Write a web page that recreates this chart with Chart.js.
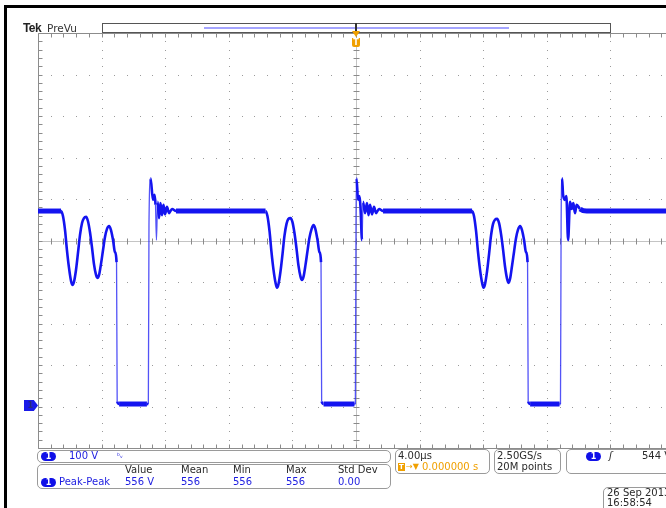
<!DOCTYPE html>
<html>
<head>
<meta charset="utf-8">
<script src="https://cdn.jsdelivr.net/npm/chart.js@4"></script>
<style>
html,body{margin:0;padding:0;background:#fff;}
body{width:666px;height:508px;overflow:hidden;position:relative;font-family:'DejaVu Sans',sans-serif;}
#wrap{position:absolute;left:0;top:0;width:700px;height:508px;}
.box{position:absolute;box-sizing:border-box;border:1px solid #9a9a9a;border-radius:5px;background:#fff;}
.t{position:absolute;font-size:10px;line-height:10px;white-space:nowrap;}
.blue{color:#1c1ce0;}
.dark{color:#2a2a2a;}
.org{color:#f0a000;}
.pill{position:absolute;width:15px;height:9px;border-radius:5px;background:#1010e8;color:#fff;font:bold 8px/9px 'DejaVu Sans',sans-serif;text-align:center;}
</style>
</head>
<body>
<div id="wrap"><canvas id="scope"></canvas></div>

<!-- frame -->
<div style="position:absolute;left:4px;top:5px;width:700px;height:3px;background:#000"></div>
<div style="position:absolute;left:4px;top:5px;width:3px;height:520px;background:#000"></div>

<!-- header -->
<div class="t" style="left:23px;top:22px;font:bold 12px/12px 'Liberation Sans',sans-serif;letter-spacing:-0.6px;color:#222">Tek</div>
<div class="t" style="left:47px;top:23px;font-size:10.5px;color:#333">PreVu</div>
<div style="position:absolute;left:102px;top:23px;width:509px;height:10px;box-sizing:border-box;border:1px solid #555;background:transparent"></div>
<div style="position:absolute;left:204px;top:27px;width:305px;height:2px;background:#a4a4ff"></div>
<div style="position:absolute;left:355px;top:23px;width:2px;height:9px;background:#333"></div>
<div style="position:absolute;left:352px;top:31px;width:0;height:0;border-left:4px solid transparent;border-right:4px solid transparent;border-top:6px solid #f0a000"></div>
<div style="position:absolute;left:352px;top:38px;width:8px;height:9px;background:#f0a000;border-radius:0 0 2px 2px;color:#fff;font:bold 8px/9px 'DejaVu Sans',sans-serif;text-align:center">T</div>

<!-- ground marker -->
<div style="position:absolute;left:24px;top:400px;width:14px;height:11px;background:#1a1ae8;clip-path:polygon(0 0,70% 0,100% 50%,70% 100%,0 100%);color:#2a2a80;font:bold 8px/11px 'DejaVu Sans',sans-serif;text-indent:4px">1</div>

<!-- channel box -->
<div class="box" style="left:37px;top:450px;width:354px;height:13px"></div>
<div class="pill" style="left:41px;top:452px">1</div>
<div class="t blue" style="left:69px;top:451px">100 V</div>
<div class="t blue" style="left:117px;top:451px;font-size:7px">ᵇᵥ</div>

<!-- measurement box -->
<div class="box" style="left:37px;top:464px;width:354px;height:25px"></div>
<div class="t dark" style="left:125px;top:465px">Value</div>
<div class="t dark" style="left:181px;top:465px">Mean</div>
<div class="t dark" style="left:233px;top:465px">Min</div>
<div class="t dark" style="left:286px;top:465px">Max</div>
<div class="t dark" style="left:338px;top:465px">Std Dev</div>
<div class="pill" style="left:41px;top:478px">1</div>
<div class="t blue" style="left:59px;top:477px">Peak-Peak</div>
<div class="t blue" style="left:125px;top:477px">556 V</div>
<div class="t blue" style="left:181px;top:477px">556</div>
<div class="t blue" style="left:233px;top:477px">556</div>
<div class="t blue" style="left:286px;top:477px">556</div>
<div class="t blue" style="left:338px;top:477px">0.00</div>

<!-- timebase box -->
<div class="box" style="left:395px;top:449px;width:95px;height:25px"></div>
<div class="t dark" style="left:398px;top:451px">4.00µs</div>
<div style="position:absolute;left:398px;top:463px;width:7px;height:8px;background:#f0a000;color:#fff;font:bold 7px/8px 'DejaVu Sans',sans-serif;text-align:center">T</div>
<div class="t org" style="left:406px;top:462px;font-size:8px">→▼</div>
<div class="t org" style="left:422px;top:462px">0.000000 s</div>

<!-- sample box -->
<div class="box" style="left:494px;top:449px;width:67px;height:25px"></div>
<div class="t dark" style="left:497px;top:451px">2.50GS/s</div>
<div class="t dark" style="left:497px;top:462px">20M points</div>

<!-- trigger box -->
<div class="box" style="left:566px;top:449px;width:140px;height:25px"></div>
<div class="pill" style="left:586px;top:452px">1</div>
<div class="t dark" style="left:609px;top:451px;font-style:italic">ʃ</div>
<div class="t dark" style="left:642px;top:451px">544 V</div>

<!-- date box -->
<div class="box" style="left:603px;top:487px;width:100px;height:26px"></div>
<div class="t dark" style="left:607px;top:488px">26 Sep  2013</div>
<div class="t dark" style="left:607px;top:498px">16:58:54</div>

<script>
// time axis in microseconds (4 us/div), voltage in volts (100 V/div), ground at 0 V
const X_MIN = -20, X_MAX = 20, X_DIV = 4;
const Y_MIN = -100, Y_MAX = 900, Y_DIV = 100;

// cycle 1: flat top, two ringing dips, low plateau, rising edge with overshoot
const cycle1T = [-20.00, -18.55, -18.43, -18.30, -18.18, -18.05, -17.92, -17.83, -17.74, -17.61, -17.48, -17.36, -17.23, -17.11, -16.98, -16.86, -16.73, -16.60, -16.48, -16.35, -16.26, -16.16, -16.04, -15.91, -15.79, -15.66, -15.53, -15.41, -15.28, -15.16, -15.06, -15.02, -14.90,
  -13.15, -13.06, -13.02, -12.92, -12.77, -12.67, -12.61, -12.55, -12.48, -12.39, -12.30, -12.20, -12.11, -12.01, -11.89, -11.76, -11.57, -11.32];
const cycle1V = [471, 471, 459, 425, 377, 334, 302, 293, 300, 329, 372, 413, 442, 454, 457, 447, 420, 382, 343, 317, 310, 317, 343, 377, 408, 428, 435, 425, 401, 372, 348, 12, 6,
  6, 6, 440, 550, 498, 510, 486, 401, 493, 454, 490, 461, 486, 463, 481, 466, 476, 471];

const cycle2T = [-5.69, -5.57, -5.44, -5.32, -5.19, -5.06, -4.97, -4.88, -4.75, -4.62, -4.50, -4.37, -4.25, -4.12, -4.00, -3.87, -3.74, -3.62, -3.49, -3.40, -3.30, -3.18, -3.05, -2.93, -2.80, -2.67, -2.55, -2.42, -2.30, -2.20, -2.16, -2.04,
  -0.10, -0.04, 0.00, 0.03, 0.13, 0.22, 0.28, 0.38, 0.44, 0.57, 0.69, 0.79, 0.88, 1.01, 1.13, 1.26, 1.45, 1.70];
const cycle2V = [471, 459, 423, 374, 330, 298, 286, 294, 325, 368, 411, 440, 452, 454, 445, 418, 380, 340, 313, 305, 313, 340, 375, 406, 427, 437, 427, 401, 372, 348, 12, 6,
  6, 6, 440, 550, 498, 507, 483, 401, 493, 466, 490, 461, 486, 463, 481, 466, 476, 471];

const cycle3T = [7.30, 7.42, 7.55, 7.67, 7.80, 7.93, 8.02, 8.11, 8.24, 8.37, 8.49, 8.62, 8.74, 8.87, 8.99, 9.12, 9.25, 9.37, 9.50, 9.59, 9.69, 9.81, 9.94, 10.06, 10.19, 10.32, 10.44, 10.57, 10.69, 10.79, 10.83, 10.95,
  12.80, 12.86, 12.90, 12.96, 13.02, 13.13, 13.23, 13.34, 13.46, 13.57, 13.67, 13.77, 13.88, 14.09, 14.51, 20.00];
const cycle3V = [471, 459, 423, 374, 330, 298, 286, 294, 325, 368, 411, 440, 450, 452, 443, 416, 378, 338, 308, 298, 308, 338, 373, 405, 426, 435, 425, 401, 372, 348, 12, 6,
  6, 6, 440, 550, 512, 498, 507, 401, 493, 476, 490, 466, 486, 476, 471, 471];

const pts = (T, V) => T.map((t, i) => ({ x: t, y: V[i] }));
const trace = [...pts(cycle1T, cycle1V), ...pts(cycle2T, cycle2V), ...pts(cycle3T, cycle3V)];

const TRACE = '#1414f0';

function segSlope(c) {
  const dv = Math.abs(c.p1.parsed.y - c.p0.parsed.y);
  const dt = Math.abs(c.p1.parsed.x - c.p0.parsed.x) || 1e-6;
  return { dv, dt, s: dv / dt };
}

const graticule = {
  id: 'graticule',
  beforeDatasetsDraw(chart) {
    const { ctx, chartArea: a, scales: { x, y } } = chart;
    const px = v => Math.round(x.getPixelForValue(v)) + 0.5;
    const py = v => Math.round(y.getPixelForValue(v)) + 0.5;
    const xMaj = [], yMaj = [], xMin = [], yMin = [];
    for (let v = X_MIN; v <= X_MAX + 1e-9; v += X_DIV) xMaj.push(v);
    for (let v = Y_MIN; v <= Y_MAX + 1e-9; v += Y_DIV) yMaj.push(v);
    for (let v = X_MIN; v <= X_MAX + 1e-9; v += X_DIV / 5) xMin.push(v);
    for (let v = Y_MIN; v <= Y_MAX + 1e-9; v += Y_DIV / 5) yMin.push(v);
    const xc = (X_MIN + X_MAX) / 2, yc = (Y_MIN + Y_MAX) / 2;

    ctx.save();
    // dotted division lines
    ctx.fillStyle = '#9a9a9a';
    xMaj.slice(1, -1).forEach(v => {
      if (v === xc) return;
      yMin.forEach(w => ctx.fillRect(px(v) - 0.5, py(w) - 0.5, 1, 1));
    });
    yMaj.slice(1, -1).forEach(w => {
      if (w === yc) return;
      xMin.forEach(v => ctx.fillRect(px(v) - 0.5, py(w) - 0.5, 1, 1));
    });

    // centre cross
    ctx.strokeStyle = '#c4c4c4';
    ctx.lineWidth = 1;
    ctx.beginPath();
    ctx.moveTo(a.left, py(yc)); ctx.lineTo(a.right, py(yc));
    ctx.moveTo(px(xc), a.top); ctx.lineTo(px(xc), a.bottom);
    ctx.stroke();
    ctx.strokeStyle = '#8a8a8a';
    ctx.beginPath();
    xMin.forEach(v => { ctx.moveTo(px(v), py(yc) - 3); ctx.lineTo(px(v), py(yc) + 3); });
    yMin.forEach(w => { ctx.moveTo(px(xc) - 3, py(w)); ctx.lineTo(px(xc) + 3, py(w)); });
    ctx.stroke();

    // outer edges with minor ticks
    const L = px(X_MIN), T = py(Y_MAX), B = py(Y_MIN), R = px(X_MAX);
    ctx.strokeStyle = '#8c8c8c';
    ctx.beginPath();
    ctx.moveTo(L, T); ctx.lineTo(L, B); ctx.lineTo(R, B);
    ctx.moveTo(L, T); ctx.lineTo(R, T);
    yMin.forEach(w => { ctx.moveTo(L, py(w)); ctx.lineTo(L + 4, py(w)); });
    xMin.forEach(v => {
      ctx.moveTo(px(v), B); ctx.lineTo(px(v), B - 4);
      ctx.moveTo(px(v), T); ctx.lineTo(px(v), T + 4);
    });
    ctx.stroke();
    ctx.restore();
  }
};

new Chart(document.getElementById('scope'), {
  type: 'line',
  data: {
    datasets: [{
      label: 'CH1',
      data: trace,
      borderColor: TRACE,
      borderWidth: 3,
      pointRadius: 0,
      cubicInterpolationMode: 'monotone',
      segment: {
        borderWidth: c => {
          const { dv, dt, s } = segSlope(c);
          if (s > 1000) return 1.3;
          if (dv < 15 && dt > 0.4) return 5;
          return 2.6;
        },
        borderColor: c => segSlope(c).s > 1000 ? 'rgba(40,40,245,0.8)' : TRACE
      }
    }]
  },
  options: {
    responsive: true,
    maintainAspectRatio: false,
    animation: false,
    events: [],
    layout: { padding: { left: 38, top: 33, right: 26, bottom: 60 } },
    plugins: { legend: { display: false }, tooltip: { enabled: false } },
    scales: {
      x: { type: 'linear', min: X_MIN, max: X_MAX, display: false },
      y: { type: 'linear', min: Y_MIN, max: Y_MAX, display: false }
    }
  },
  plugins: [graticule]
});
</script>
</body>
</html>
